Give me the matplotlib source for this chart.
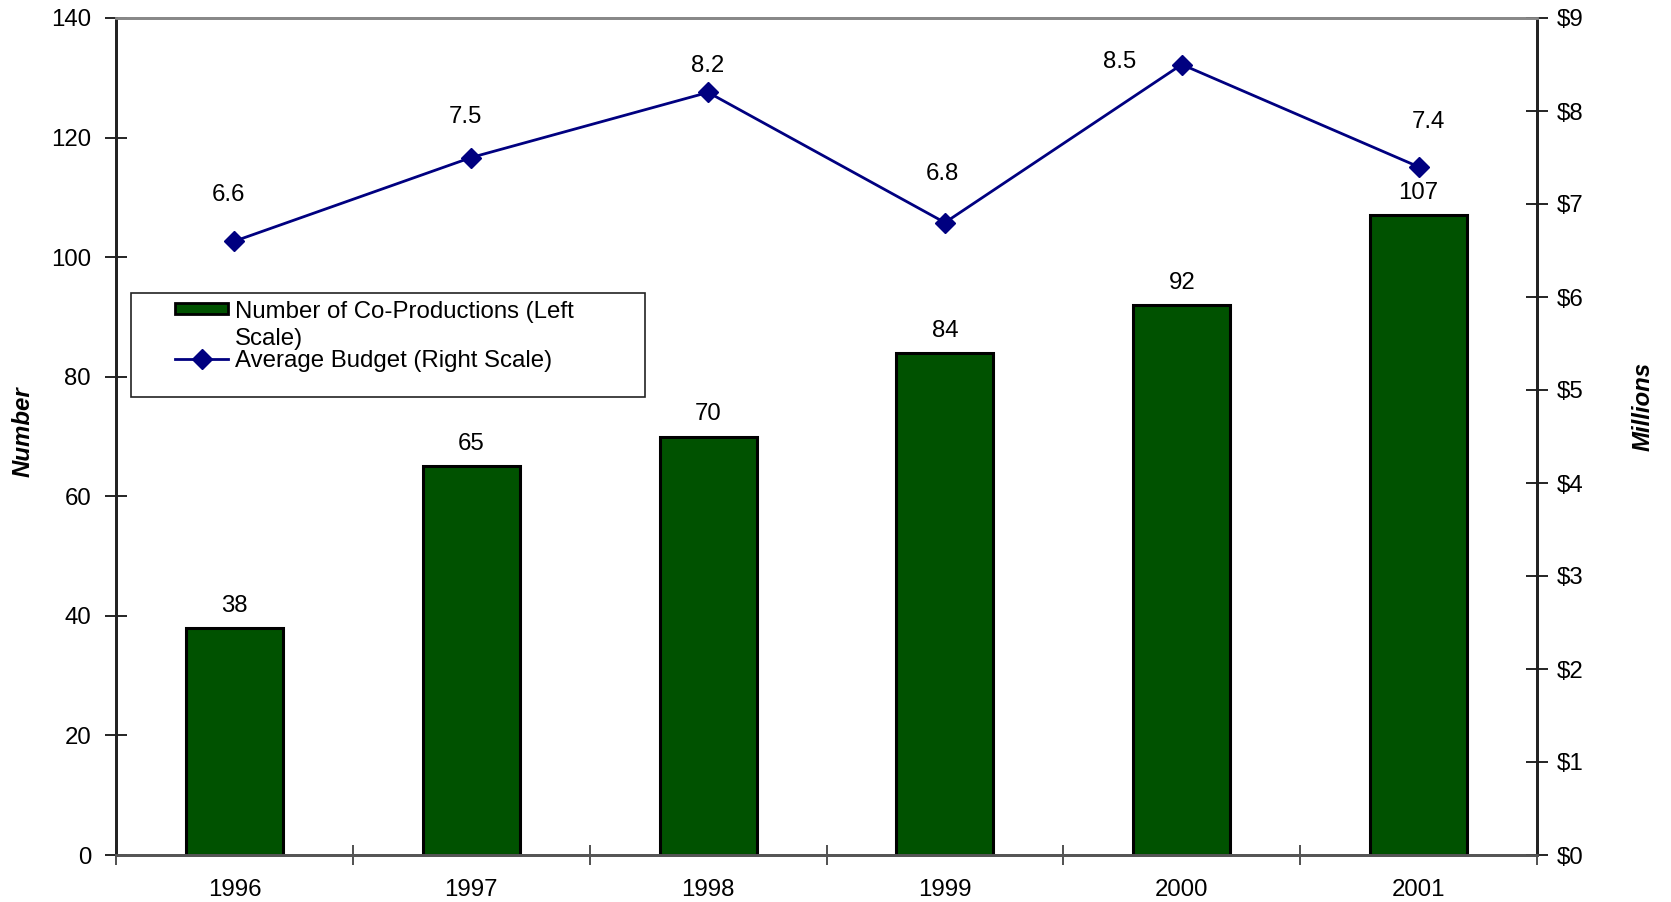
import matplotlib
matplotlib.use("Agg")
import matplotlib.pyplot as plt
from matplotlib.patches import Rectangle
from matplotlib.lines import Line2D
from matplotlib.ticker import FixedLocator, NullFormatter

plt.rcParams['font.family'] = ['Liberation Sans', 'DejaVu Sans']

years = ["1996", "1997", "1998", "1999", "2000", "2001"]
coproductions = [38, 65, 70, 84, 92, 107]
avg_budget = [6.6, 7.5, 8.2, 6.8, 8.5, 7.4]
budget_ticks = [0, 1, 2, 3, 4, 5, 6, 7, 8, 9]

# per-label offsets (points) for the budget labels
budget_label_offsets = [(-4, 33), (-4, 29), (0, 19), (-2, 35), (-45, 2), (7, 32)]

BAR_COLOR = "#005200"
LINE_COLOR = "#000080"
FS = 17.3
W, H = 1671, 902

fig = plt.figure(figsize=(W / 100, H / 100), dpi=100)
ax = fig.add_axes([116 / W, 47 / H, 1421 / W, 837 / H])
ax2 = ax.twinx()

x = [i + 0.5 for i in range(len(years))]
ax.bar(x, coproductions, width=0.41, color=BAR_COLOR, edgecolor="black",
       linewidth=2.2, zorder=2)
for xi, v in zip(x, coproductions):
    ax.annotate(str(v), (xi, v), xytext=(0, 16), textcoords="offset points",
                ha="center", va="center", fontsize=FS)

ax2.plot(x, avg_budget, color=LINE_COLOR, linewidth=2, marker="D",
         markersize=10, zorder=3)
for xi, v, off in zip(x, avg_budget, budget_label_offsets):
    ax2.annotate(f"{v:.1f}", (xi, v), xytext=off, textcoords="offset points",
                 ha="center", va="center", fontsize=FS)

ax.set_xlim(0, len(years))
ax.set_ylim(0, 140)
ax2.set_ylim(0, 9)

ax.set_yticks(range(0, 141, 20))
ax2.set_yticks(budget_ticks)
ax2.set_yticklabels([f"${t}" for t in budget_ticks])

ax.xaxis.set_major_locator(FixedLocator(range(0, len(years) + 1)))
ax.xaxis.set_major_formatter(NullFormatter())
ax.set_xticks(x, minor=True)
ax.set_xticklabels(years, minor=True)
ax.tick_params(axis="x", which="major", direction="inout", length=14,
               width=1.2, color="#333333")
ax.tick_params(axis="x", which="minor", length=0, labelsize=FS, pad=17.5)
ax.tick_params(axis="y", direction="inout", length=16, width=1.2,
               labelsize=FS, pad=10)
ax2.tick_params(axis="y", direction="inout", length=16, width=1.2,
                labelsize=FS, pad=6)

for a in (ax, ax2):
    a.spines["top"].set_color("#888888")
    a.spines["top"].set_linewidth(2)
    a.spines["bottom"].set_color("#555555")
    a.spines["bottom"].set_linewidth(2)
    a.spines["left"].set_color("#222222")
    a.spines["left"].set_linewidth(2)
    a.spines["right"].set_color("#222222")
    a.spines["right"].set_linewidth(2)

fig.text(23 / W, 1 - 432 / H, "Number", rotation=90, ha="center",
         va="center", fontsize=FS, fontweight="bold", fontstyle="italic")
fig.text(1643 / W, 1 - 406 / H, "Millions", rotation=90, ha="center",
         va="center", fontsize=FS, fontweight="bold", fontstyle="italic")

# legend drawn in figure pixel coordinates
def fx(px):
    return px / W


def fy(py):
    return 1 - py / H


fig.patches.append(Rectangle((fx(131), fy(397)), 514 / W, 104 / H,
                             transform=fig.transFigure, facecolor="white",
                             edgecolor="#222222", linewidth=1.2, zorder=5))
fig.patches.append(Rectangle((fx(175), fy(314)), 53 / W, 11 / H,
                             transform=fig.transFigure, facecolor=BAR_COLOR,
                             edgecolor="black", linewidth=2, zorder=6))
fig.lines.append(Line2D([fx(175), fx(228)], [fy(358.5), fy(358.5)],
                        transform=fig.transFigure, color=LINE_COLOR,
                        linewidth=2, zorder=6))
fig.lines.append(Line2D([fx(201.5)], [fy(358.5)], transform=fig.transFigure,
                        color=LINE_COLOR, marker="D", markersize=10,
                        linestyle="none", zorder=6))
legend_labels = ["Number of Co-Productions (Left", "Scale)",
                 "Average Budget (Right Scale)"]
legend_baselines = [318.5, 345, 367]
for txt, by in zip(legend_labels, legend_baselines):
    fig.text(fx(235), fy(by), txt, ha="left", va="baseline", fontsize=FS,
             zorder=7)

fig.savefig("out.png", dpi=100)
